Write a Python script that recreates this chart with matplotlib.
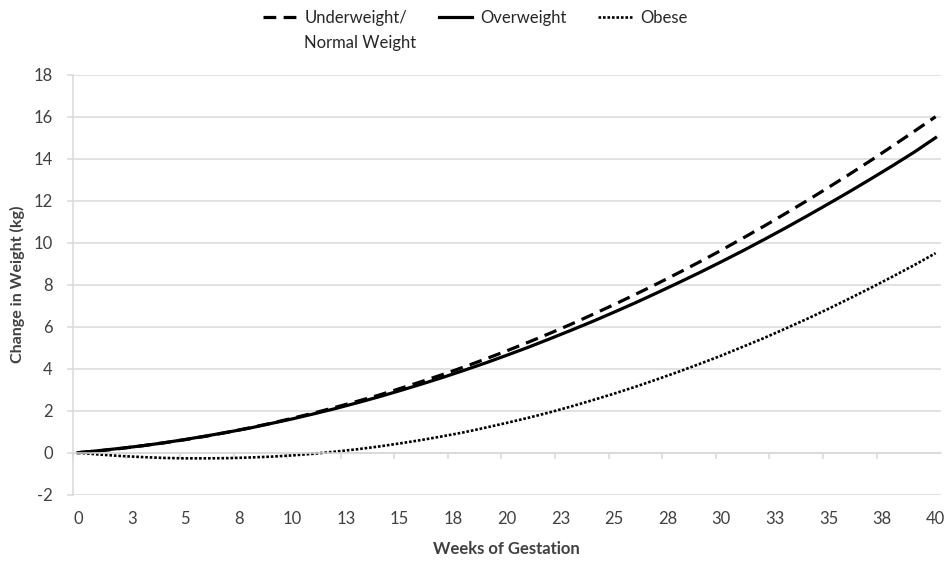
import numpy as np
import matplotlib
matplotlib.use("Agg")
import matplotlib.pyplot as plt

plt.rcParams['font.family'] = ['Lato', 'DejaVu Sans']
plt.rcParams['axes.unicode_minus'] = False

# weeks of gestation (one point per week)
weeks = list(range(0, 41))

# change in weight (kg)
underweight = [0.00, 0.09, 0.20, 0.33, 0.47, 0.62, 0.79, 0.98, 1.18, 1.40,
               1.64, 1.89, 2.16, 2.44, 2.73, 3.05, 3.38, 3.72, 4.08, 4.46,
               4.85, 5.26, 5.68, 6.12, 6.58, 7.05, 7.54, 8.04, 8.56, 9.09,
               9.64, 10.21, 10.79, 11.39, 12.00, 12.63, 13.27, 13.93, 14.61, 15.30,
               16.00]
overweight = [0.00, 0.10, 0.21, 0.33, 0.47, 0.63, 0.80, 0.98, 1.17, 1.39,
              1.61, 1.85, 2.10, 2.37, 2.65, 2.95, 3.26, 3.58, 3.92, 4.27,
              4.64, 5.02, 5.42, 5.83, 6.25, 6.69, 7.14, 7.61, 8.09, 8.58,
              9.09, 9.61, 10.15, 10.70, 11.27, 11.85, 12.44, 13.05, 13.67, 14.31,
              15.00]
obese = [0.00, -0.09, -0.16, -0.21, -0.25, -0.27, -0.27, -0.26, -0.23, -0.19,
         -0.13, -0.05, 0.05, 0.16, 0.29, 0.44, 0.60, 0.78, 0.97, 1.19,
         1.42, 1.66, 1.92, 2.20, 2.50, 2.81, 3.14, 3.49, 3.85, 4.23,
         4.62, 5.04, 5.46, 5.91, 6.37, 6.85, 7.35, 7.86, 8.39, 8.93,
         9.50]

tick_weeks = [0, 2.5, 5, 7.5, 10, 12.5, 15, 17.5, 20, 22.5, 25, 27.5, 30, 32.5, 35, 37.5, 40]
tick_labels = ['0', '3', '5', '8', '10', '13', '15', '18', '20', '23', '25',
               '28', '30', '33', '35', '38', '40']
y_ticks = [-2, 0, 2, 4, 6, 8, 10, 12, 14, 16, 18]

grid_col = '#d9d9d9'
text_col = '#404040'

fig = plt.figure(figsize=(9.52, 5.62), dpi=100)
ax = fig.add_axes([0.0764, 0.1198, 0.912, 0.7473])

ax.plot(weeks, underweight, color='black', lw=2.3, ls=(0, (4, 2.3)), label='Underweight/')
ax.plot(weeks, overweight, color='black', lw=2.3, ls='-', label='Overweight')
ax.plot(weeks, obese, color='black', lw=1.9, ls=(0, (1, 0.7)), label='Obese')

ax.set_xlim(-0.25, 40.25)
ax.set_ylim(-2, 18)
ax.set_yticks(y_ticks)
ax.yaxis.grid(True, color=grid_col, lw=1.1)
ax.set_axisbelow(True)

for s in ['top', 'right']:
    ax.spines[s].set_visible(False)
ax.spines['left'].set_color(grid_col)
ax.spines['left'].set_linewidth(1.1)
ax.spines['bottom'].set_position(('data', 0))
ax.spines['bottom'].set_color(grid_col)
ax.spines['bottom'].set_linewidth(1.1)

# tick marks between categories on the zero line
ax.set_xticks(np.array(tick_weeks[:-1]) - 0.25)
ax.set_xticklabels([])
ax.tick_params(axis='x', direction='out', length=4, width=1.1, color=grid_col)
ax.tick_params(axis='y', direction='out', length=4.3, width=1.1, color=grid_col,
               labelsize=12, labelcolor=text_col, pad=10)

# category labels at the bottom of the plot area
sec = ax.secondary_xaxis('bottom')
sec.set_xticks(tick_weeks)
sec.set_xticklabels(tick_labels)
sec.tick_params(length=0, labelsize=12, labelcolor=text_col, pad=12)
sec.spines['bottom'].set_visible(False)
sec.set_xlabel('Weeks of Gestation', fontsize=12, fontweight='bold', color=text_col, labelpad=10)

ax.set_ylabel('Change in Weight (kg)', fontsize=11.5, fontweight='bold', color=text_col, labelpad=6)

leg = fig.legend(loc='upper center', bbox_to_anchor=(0.499, 1.009), ncol=3, frameon=False,
                 fontsize=12, handlelength=2.0, columnspacing=1.9, handletextpad=0.5,
                 labelcolor='#262626')

# second line of the first legend entry, under "Underweight/"
fig.canvas.draw()
bb = leg.get_texts()[0].get_window_extent().transformed(fig.transFigure.inverted())
fig.text(bb.x0, bb.y0 - 0.017, 'Normal Weight', fontsize=12, color='#262626',
         ha='left', va='top')

fig.savefig('out.png', dpi=100)
